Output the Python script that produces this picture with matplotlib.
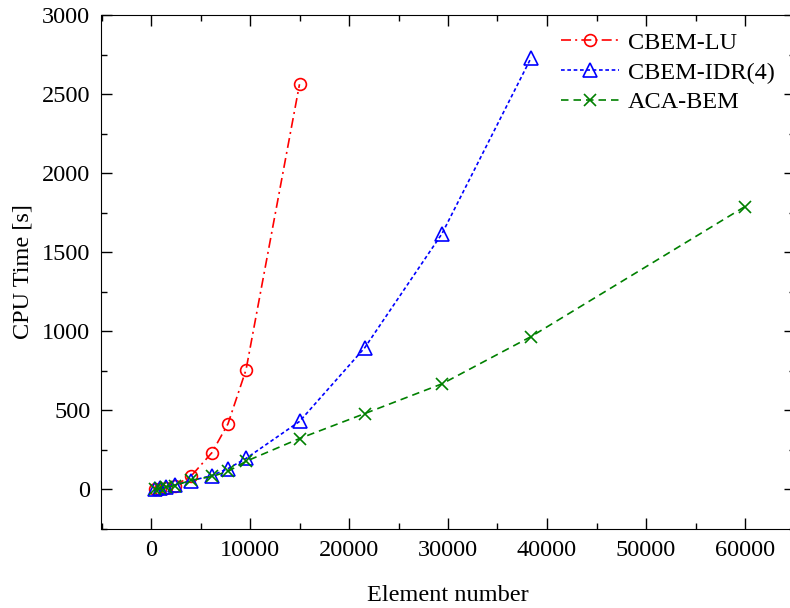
import matplotlib
matplotlib.use("Agg")
from matplotlib import pyplot as plt
from matplotlib.ticker import MultipleLocator

plt.rcParams['font.family'] = ['Liberation Serif', 'DejaVu Serif']
plt.rcParams['mathtext.fontset'] = 'stix'

# element counts (6*n^2 meshes)
elements_lu = [384, 864, 1536, 2400, 4056, 6144, 7776, 9600, 15000]
elements_idr = [384, 864, 1536, 2400, 4056, 6144, 7776, 9600, 15000, 21600, 29400, 38400]
elements_aca = [384, 864, 1536, 2400, 4056, 6144, 7776, 9600, 15000, 21600, 29400, 38400, 60000]

# CPU time [s]
time_lu = [1, 3, 10, 25, 85, 232, 415, 757, 2562]
time_idr = [3, 8, 15, 28, 55, 88, 132, 196, 430, 897, 1618, 2730]
time_aca = [3, 7, 14, 25, 58, 82, 114, 178, 322, 480, 668, 967, 1789]

FS = 17.5

fig = plt.figure(figsize=(7.9, 6.08), dpi=100)
ax = fig.add_axes([101.5 / 790, 79 / 608, 693 / 790, 514 / 608])

ax.plot(elements_lu, time_lu, color='red', linestyle=(0, (6, 2.5, 1.2, 2.5)), lw=1.2,
        marker='o', markersize=8.5, markerfacecolor='none', markeredgewidth=1.2,
        label='CBEM-LU')
ax.plot(elements_idr, time_idr, color='blue', linestyle=(0, (2.2, 1.6)), lw=1.2,
        marker='^', markersize=9.5, markerfacecolor='none', markeredgewidth=1.2,
        label='CBEM-IDR(4)')
ax.plot(elements_aca, time_aca, color='green', linestyle=(0, (4.5, 3)), lw=1.2,
        marker='x', markersize=9, markeredgewidth=1.2,
        label='ACA-BEM')

ax.set_xlim(-5000, 65000)
ax.set_ylim(-250, 3000)
ax.xaxis.set_major_locator(MultipleLocator(10000))
ax.xaxis.set_minor_locator(MultipleLocator(5000))
ax.yaxis.set_major_locator(MultipleLocator(500))
ax.yaxis.set_minor_locator(MultipleLocator(250))
ax.tick_params(which='both', direction='in', top=True, right=True, labelsize=FS)
ax.tick_params(which='major', length=8, width=1, pad=8)
ax.tick_params(which='minor', length=4, width=1)

ax.set_xlabel('Element number', fontsize=FS, labelpad=17.5)
ax.set_ylabel('CPU Time [s]', fontsize=FS, labelpad=6)

ax.legend(loc='upper left', bbox_to_anchor=(556 / 790, 1 - 27 / 608),
          bbox_transform=fig.transFigure, frameon=False, fontsize=FS,
          handlelength=2.4, handletextpad=0.35, labelspacing=0.32,
          borderaxespad=0, borderpad=0.2)

fig.savefig('out.png', dpi=100)
